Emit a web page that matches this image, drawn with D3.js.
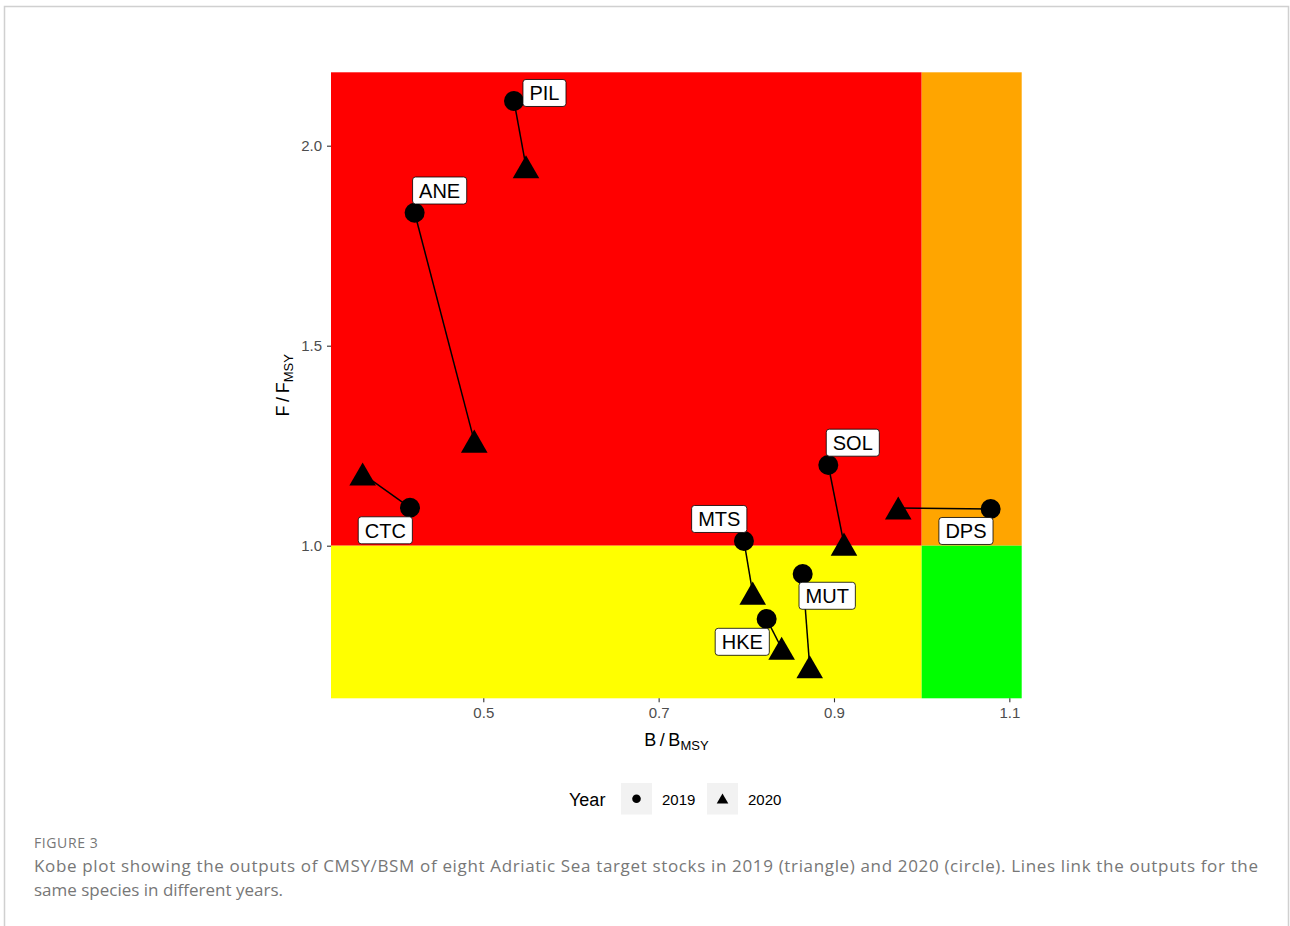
<!DOCTYPE html>
<html>
<head>
<meta charset="utf-8">
<script src="https://cdn.jsdelivr.net/npm/d3@7"></script>
<style>
  body { margin: 0; background: #fff; }
  svg { display: block; }
</style>
</head>
<body>
<div id="chart"></div>
<script>
// stock codes and values
const stocks = ["PIL", "ANE", "CTC", "SOL", "DPS", "MTS", "MUT", "HKE"];
const b2019 = [0.535, 0.4217, 0.4164, 0.8935, 1.0787, 0.7973, 0.8643, 0.8232];
const f2019 = [2.1118, 1.8325, 1.095, 1.2018, 1.0918, 1.0118, 0.9293, 0.8167];
const b2020 = [0.5487, 0.4897, 0.3624, 0.9114, 0.9733, 0.8073, 0.8723, 0.8403];
const f2020 = [1.9475, 1.2613, 1.1793, 1.0038, 1.0943, 0.8813, 0.6975, 0.7435];
const xTicks = [0.5, 0.7, 0.9, 1.1];
const yTicks = [1.0, 1.5, 2.0];
const years = ["2019", "2020"];

const W = 1290, H = 926;
const pLeft = 331, pRight = 1021.7, pTop = 72.3, pBottom = 698.3;

const x = d3.scaleLinear().domain([0.3263, 1.1141]).range([pLeft, pRight]);
const y = d3.scaleLinear().domain([0.6185, 2.1835]).range([pBottom, pTop]);

const svg = d3.select("#chart").append("svg")
    .attr("width", W).attr("height", H);

// outer figure frame
svg.append("path")
    .attr("d", `M4.5,${H + 2}V6.5H1288.5V${H + 2}`)
    .attr("fill", "none").attr("stroke", "#d0d0d0").attr("stroke-width", 1.5);

// Kobe quadrants
const [x0, x1] = x.domain(), [y0, y1] = y.domain();
const zones = [
    { xa: x0, xb: 1, ya: 1, yb: y1, c: "#FF0000" },
    { xa: 1, xb: x1, ya: 1, yb: y1, c: "#FFA500" },
    { xa: x0, xb: 1, ya: y0, yb: 1, c: "#FFFF00" },
    { xa: 1, xb: x1, ya: y0, yb: 1, c: "#00FF00" }
];
svg.selectAll("rect.zone").data(zones).enter().append("rect")
    .attr("class", "zone")
    .attr("x", d => x(d.xa)).attr("y", d => y(d.yb))
    .attr("width", d => x(d.xb) - x(d.xa)).attr("height", d => y(d.ya) - y(d.yb))
    .attr("fill", d => d.c);

// axes
const sans = "Liberation Sans, Arial, sans-serif";
const xAxis = svg.append("g")
    .attr("transform", `translate(0,${pBottom})`)
    .call(d3.axisBottom(x).tickValues(xTicks).tickSize(4).tickPadding(5).tickFormat(d3.format(".1f")));
const yAxis = svg.append("g")
    .attr("transform", `translate(${pLeft},0)`)
    .call(d3.axisLeft(y).tickValues(yTicks).tickSize(4).tickPadding(5).tickFormat(d3.format(".1f")));
[xAxis, yAxis].forEach(g => {
    g.select(".domain").remove();
    g.selectAll(".tick line").attr("stroke", "#333").attr("stroke-width", 1.1);
    g.selectAll(".tick text").attr("fill", "#4d4d4d")
        .style("font-family", sans).style("font-size", "15px");
});

// axis titles
const xt = svg.append("text").attr("x", (pLeft + pRight) / 2).attr("y", 746)
    .attr("text-anchor", "middle").attr("fill", "#000")
    .style("font-family", sans).style("font-size", "18px");
xt.append("tspan").text("B\u2009/\u2009B");
xt.append("tspan").attr("dy", 4).style("font-size", "13px").text("MSY");

const yt = svg.append("text")
    .attr("transform", `translate(289,${(pTop + pBottom) / 2}) rotate(-90)`)
    .attr("text-anchor", "middle").attr("fill", "#000")
    .style("font-family", sans).style("font-size", "18px");
yt.append("tspan").text("F\u2009/\u2009F");
yt.append("tspan").attr("dy", 4).style("font-size", "13px").text("MSY");

// linking lines
const pts = stocks.map((s, i) => ({
    s, bx: b2019[i], by: f2019[i], tx: b2020[i], ty: f2020[i]
}));
svg.selectAll("line.link").data(pts).enter().append("line")
    .attr("x1", d => x(d.bx)).attr("y1", d => y(d.by))
    .attr("x2", d => x(d.tx)).attr("y2", d => y(d.ty))
    .attr("stroke", "#000").attr("stroke-width", 1.5);

// triangle centred on its bounding box
const tri = (r) => `M0,${-r * 0.87}L${r},${r * 0.87}L${-r},${r * 0.87}Z`;

svg.selectAll("circle.p19").data(pts).enter().append("circle")
    .attr("cx", d => x(d.bx)).attr("cy", d => y(d.by)).attr("r", 10)
    .attr("fill", "#000");
svg.selectAll("path.p20").data(pts).enter().append("path")
    .attr("transform", d => `translate(${x(d.tx)},${y(d.ty)})`)
    .attr("d", tri(13.3)).attr("fill", "#000");

// label placement (repel-like offsets from 2019 point, px)
const nudge = {
    PIL: [30.5, -8], ANE: [25, -22.2], CTC: [-24.7, 22.6], SOL: [24.5, -22.3],
    MTS: [-24.7, -22], DPS: [-24.7, 22], MUT: [24.5, 21.8], HKE: [-24.4, 22.8]
};
const lab = svg.selectAll("g.lab").data(pts).enter().append("g")
    .attr("transform", d => `translate(${x(d.bx) + nudge[d.s][0]},${y(d.by) + nudge[d.s][1]})`);
lab.append("rect").attr("class", "box");
lab.append("text")
    .attr("text-anchor", "middle").attr("dy", "0.36em")
    .style("font-family", sans).style("font-size", "20px").attr("fill", "#000")
    .text(d => d.s);
lab.each(function () {
    const g = d3.select(this);
    const w = g.select("text").node().getComputedTextLength() + 13;
    g.select("rect").attr("x", -w / 2).attr("y", -13.5).attr("width", w).attr("height", 27)
        .attr("rx", 3).attr("fill", "#fff").attr("stroke", "#000").attr("stroke-width", 0.8);
});

// legend
svg.append("text").attr("x", 569).attr("y", 806)
    .style("font-family", sans).style("font-size", "18px").text("Year");
const keyX = [621, 707];
years.forEach((yr, i) => {
    const g = svg.append("g").attr("transform", `translate(${keyX[i]},783)`);
    g.append("rect").attr("width", 31).attr("height", 31.5).attr("fill", "#f2f2f2");
    if (i === 0) g.append("circle").attr("cx", 15.5).attr("cy", 15.75).attr("r", 4.3);
    else g.append("path").attr("transform", "translate(15.5,15.5)").attr("d", tri(5.8));
    g.append("text").attr("x", 41).attr("y", 21.5)
        .style("font-family", sans).style("font-size", "15px").text(yr);
});

// caption
const cap = "Open Sans, Noto Sans, sans-serif";
svg.append("text").attr("x", 34).attr("y", 848).attr("fill", "#777")
    .style("font-family", cap).style("font-size", "14px").style("letter-spacing", "0.6px")
    .text("FIGURE 3");
svg.append("text").attr("x", 34).attr("y", 872).attr("fill", "#777")
    .attr("textLength", 1224).attr("lengthAdjust", "spacing")
    .style("font-family", cap).style("font-size", "17px")
    .text("Kobe plot showing the outputs of CMSY/BSM of eight Adriatic Sea target stocks in 2019 (triangle) and 2020 (circle). Lines link the outputs for the");
svg.append("text").attr("x", 34).attr("y", 896).attr("fill", "#777")
    .style("font-family", cap).style("font-size", "17px")
    .text("same species in different years.");
</script>
</body>
</html>
